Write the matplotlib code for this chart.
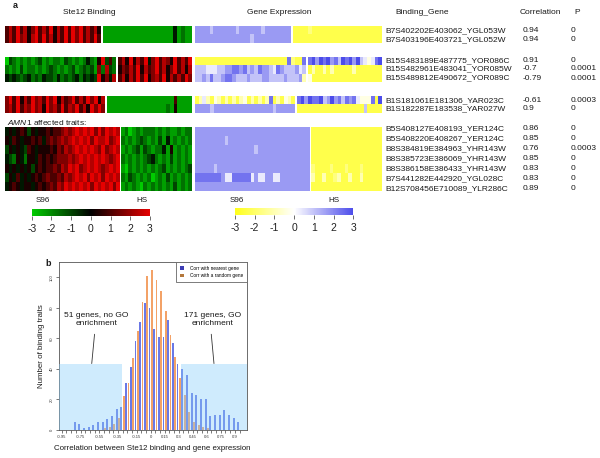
import numpy as np
import matplotlib
matplotlib.use("Agg")
import matplotlib.pyplot as plt
from matplotlib.colors import LinearSegmentedColormap, Normalize
from matplotlib.patches import Patch, Rectangle
from matplotlib.cm import ScalarMappable

plt.rcParams['font.family'] = ['Liberation Sans', 'DejaVu Sans']
plt.rcParams['axes.unicode_minus'] = False
plt.rcParams['mathtext.fontset'] = 'custom'
plt.rcParams['mathtext.it'] = 'Liberation Sans:italic'
plt.rcParams['mathtext.rm'] = 'Liberation Sans'

# ---------------- panel a data ----------------
# heatmap cells: digit d -> value (d - 4.5) / 1.5  (range -3 .. 3)
g1_labels = ["B7S402202E403062_YGL053W", "B7S403196E403721_YGL052W"]
g1_corr = ["0.94", "0.94"]
g1_p = ["0", "0"]
g1_split = 26
g1_binding = [
    "68696857968695869697968685" + "111111111111111111141211",
    "68697858969685869697968696" + "111111111111111111141211",
]
g1_expression = [
    "77776777777677777767777777" + "111121111111111111111111",
    "77777777777777767777777777" + "111111111111111111111111",
]

g2_labels = ["B15S483189E487775_YOR086C", "B15S482961E483041_YOR085W",
             "B15S489812E490672_YOR089C"]
g2_corr = ["0.91", "-0.7", "-0.79"]
g2_p = ["0", "0.0001", "0.0001"]
g2_split = 30
g2_binding = [
    "032121212312122132121242159362" + "68595869479687596869",
    "212131221212321212312323172832" + "57686958679685796858",
    "434323423243324232342434395748" + "68586969578695868697",
]
g2_expression = [
    "1111111111111111111111111" + "82118" + "89798978698979654589",
    "666555667788786768776587666756" + "13113131111131111111",
    "667686678876667666776666766673" + "41111111111111111111",
]

g3_labels = ["B1S181061E181306_YAR023C", "B1S182287E183538_YAR027W"]
g3_corr = ["-0.61", "0.9"]
g3_p = ["0.0003", "0"]
g3_split = 27
g3_binding = [
    "796958697869795867968697958" + "111111111111111111" + "61111",
    "786968797859786968796859797" + "1111111111111111" + "2151111",
]
g3_expression = [
    "135314313131341313138131431" + "89798896797868785444819",
    "777767777777777777777677777" + "111111111111111111" + "61111",
]

g4_labels = ["B5S408127E408193_YER124C", "B5S408220E408267_YER124C",
             "B8S384819E384963_YHR143W", "B8S385723E386069_YHR143W",
             "B8S386158E386433_YHR143W", "B7S441282E442920_YGL028C",
             "B12S708456E710089_YLR286C"]
g4_corr = ["0.86", "0.85", "0.76", "0.85", "0.83", "0.83", "0.89"]
g4_p = ["0", "0", "0.0003", "0", "0", "0", "0"]
g4_split = 31
g4_binding = [
    "4545653545565667878989897979898" + "1201212221212112122",
    "5465455656467678789898979889789" + "2121232121314121212",
    "3545436545556576878989898797898" + "1212313212241512121",
    "4325425546565677787898989898789" + "2121212342121312121",
    "5454545356566768798978989878989" + "1021212121231212123",
    "3546454565676676878989798979898" + "2132121201213121212",
    "4565455456567687989898979898979" + "1212102121212131212",
]
g4_expression = [
    "7777777777777777777777777777777" + "1111111111111111111",
    "7777777767777777777777777777777" + "1111111111111111111",
    "7777777777777777677777777777777" + "1111111111111111111",
    "7777777777777777777777777777777" + "1111111111111111111",
    "7777767777777777777777777777777" + "2111121112111211111",
    "8888888755888885755775577777777" + "3113112311311311111",
    "7777777777777777777777777777777" + "1111111111111111111",
]

cbar_ticks = [-3, -2, -1, 0, 1, 2, 3]

# ---------------- panel b data ----------------
hist_bins = [-0.95, -0.9, -0.85, -0.8, -0.75, -0.7, -0.65, -0.6, -0.55, -0.5,
             -0.45, -0.4, -0.35, -0.3, -0.25, -0.2, -0.15, -0.1, -0.05, 0.0,
             0.05, 0.1, 0.15, 0.2, 0.25, 0.3, 0.35, 0.4, 0.45, 0.5,
             0.55, 0.6, 0.65, 0.7, 0.75, 0.8, 0.85, 0.9, 0.95]
nearest_counts = [0, 0, 0, 5, 4, 1, 2, 3, 5, 5,
                  7, 9, 14, 15, 31, 41, 58, 71, 83, 80,
                  66, 61, 61, 72, 57, 43, 40, 36, 24, 23,
                  20, 20, 9, 10, 10, 13, 10, 8, 5]
random_counts = [0, 0, 0, 0, 0, 0, 0, 0, 0, 1,
                 2, 4, 8, 22, 31, 47, 65, 84, 101, 105,
                 98, 91, 78, 62, 48, 34, 23, 12, 5, 3,
                 2, 1, 0, 0, 0, 0, 0, 0, 0]
shown_xlabels = {-0.95: "-0.95", -0.75: "-0.75", -0.55: "-0.55", -0.35: "-0.35",
                 -0.15: "-0.15", 0.0: "0", 0.15: "0.15", 0.3: "0.3", 0.45: "0.45",
                 0.6: "0.6", 0.75: "0.75", 0.9: "0.9"}
hist_yticks = [0, 20, 40, 60, 80, 100]
shade_height = 43.5
left_shade_end = -0.31
right_shade_start = 0.327

# ---------------- figure ----------------
W, H = 600, 458
fig = plt.figure(figsize=(6, 4.58), dpi=100)
fig.patch.set_facecolor('white')

ov = fig.add_axes([0, 0, 1, 1])
ov.set_xlim(0, W)
ov.set_ylim(H, 0)
ov.axis('off')

cmap_b = LinearSegmentedColormap.from_list('bind', [(0, 0.8, 0), (0, 0, 0), (0.9, 0, 0)])
cmap_e = LinearSegmentedColormap.from_list('expr', [(1, 1, 0.1), (1, 1, 1), (0.3, 0.3, 0.92)])
norm = Normalize(-3, 3)

TXT = '#1a1a1a'
FS = 6.0


def decode(rows):
    lens = {len(r) for r in rows}
    assert len(lens) == 1, lens
    return (np.array([[int(c) for c in r] for r in rows], dtype=float) - 4.5) / 1.5


PX = 3.69
GAP = 2.4
BX0 = 4.5
EX0 = 194.5

groups = [
    (g1_binding, g1_expression, g1_split, (26.7, 43.3), g1_labels, g1_corr, g1_p, [31, 39.3]),
    (g2_binding, g2_expression, g2_split, (56.7, 81.7), g2_labels, g2_corr, g2_p, [60.3, 68.8, 78]),
    (g3_binding, g3_expression, g3_split, (96.7, 113.3), g3_labels, g3_corr, g3_p, [100.3, 108.6]),
    (g4_binding, g4_expression, g4_split, (127.7, 191), g4_labels, g4_corr, g4_p,
     [128.3, 138.3, 148.3, 158.3, 168.3, 178.3, 188.3]),
]

for bind, expr, split, (y0, y1), labels, corr, pv, ly in groups:
    B = decode(bind)
    E = decode(expr)
    n = B.shape[1]
    for X0, M, cmap in ((BX0, B, cmap_b), (EX0, E, cmap_e)):
        xa1 = X0 + split * PX
        xb0 = xa1 + GAP
        xb1 = X0 + n * PX + GAP
        ov.imshow(M[:, :split], cmap=cmap, norm=norm, aspect='auto',
                  interpolation='nearest', extent=(X0, xa1, y1, y0))
        ov.imshow(M[:, split:], cmap=cmap, norm=norm, aspect='auto',
                  interpolation='nearest', extent=(xb0, xb1, y1, y0))
    for lab, c, p, yy in zip(labels, corr, pv, ly):
        ov.text(385, yy, lab, fontsize=FS, color=TXT, ha='left', va='center')
        ov.text(523, yy, c, fontsize=FS, color=TXT, ha='left', va='center')
        ov.text(571, yy, p, fontsize=FS, color=TXT, ha='left', va='center')

ov.set_xlim(0, W)
ov.set_ylim(H, 0)

ov.text(15, 6, "a", fontsize=6.5, fontweight='bold', color=TXT, ha='center', va='center')
ov.text(89, 13, "Ste12 Binding", fontsize=FS, color=TXT, ha='center', va='center')
ov.text(279, 13, "Gene Expression", fontsize=FS, color=TXT, ha='center', va='center')
ov.text(422, 13, "Binding_Gene", fontsize=FS, color=TXT, ha='center', va='center')
ov.text(540, 13, "Correlation", fontsize=FS, color=TXT, ha='center', va='center')
ov.text(577, 13, "P", fontsize=FS, color=TXT, ha='center', va='center')
ov.text(7, 122.5, r"$\mathit{AMN1}$ affected traits:", fontsize=FS, color=TXT,
        ha='left', va='center')

ov.text(43.3, 201, "S96", fontsize=5.8, color=TXT, ha='center', va='center')
ov.text(141.7, 201, "HS", fontsize=5.8, color=TXT, ha='center', va='center')
ov.text(236.7, 200, "S96", fontsize=5.8, color=TXT, ha='center', va='center')
ov.text(334.3, 200, "HS", fontsize=5.8, color=TXT, ha='center', va='center')
ov.text(48, 263, "b", fontsize=6.5, fontweight='bold', color=TXT, ha='center', va='center')

# colorbars
for (x0, x1, yb, yt), cmap in (((31.7, 150, 216, 209.3), cmap_b), ((235, 353.3, 215, 208), cmap_e)):
    cax = fig.add_axes([x0 / W, 1 - yb / H, (x1 - x0) / W, (yb - yt) / H])
    cb = fig.colorbar(ScalarMappable(norm=norm, cmap=cmap), cax=cax,
                      orientation='horizontal', ticks=cbar_ticks)
    cb.outline.set_visible(False)
    cb.ax.set_xticklabels([str(t) for t in cbar_ticks])
    cb.ax.tick_params(labelsize=7.5, length=3, width=0.6, color='#555',
                      labelcolor='#222', pad=3)

# histogram
axh = fig.add_axes([59 / W, 1 - 430 / H, 188 / W, 168 / H])
c = np.array(hist_bins)
blue_col = '#6a78e6'
orange_col = '#f3a267'
axh.bar(c - 0.0125, nearest_counts, width=0.02, color=blue_col, linewidth=0, zorder=2)
axh.bar(c + 0.0125, random_counts, width=0.02, color=orange_col, linewidth=0, zorder=2)
xl = (-0.98, 1.03)
axh.set_xlim(*xl)
axh.set_ylim(0, 110)
axh.add_patch(Rectangle((xl[0], 0), left_shade_end - xl[0], shade_height,
                        facecolor='#87cefa', alpha=0.4, lw=0, zorder=3))
axh.add_patch(Rectangle((right_shade_start, 0), xl[1] - right_shade_start, shade_height,
                        facecolor='#87cefa', alpha=0.4, lw=0, zorder=3))

axh.set_xticks(hist_bins)
axh.set_xticklabels([shown_xlabels.get(round(b, 2), "") for b in hist_bins])
axh.set_yticks(hist_yticks)
axh.set_yticklabels([str(t) for t in hist_yticks], rotation=90, va='center')
axh.tick_params(axis='both', labelsize=3.0, length=2, width=0.5, color='#444',
                labelcolor='#333', pad=1.5)
for s in axh.spines.values():
    s.set_linewidth(0.6)
    s.set_color('#555')

axh.set_xlabel("Correlation between Ste12 binding and gene expression", fontsize=5.7, color=TXT)
axh.xaxis.set_label_coords(0.495, -0.113)
axh.xaxis.label.set_va('center')
axh.set_ylabel("Number of binding traits", fontsize=5.7, color=TXT)
axh.yaxis.set_label_coords(-0.092, 0.5)
axh.yaxis.label.set_va('center')

axh.text(-0.578, 72.3, "51 genes, no GO\nenrichment", fontsize=FS, color=TXT,
         ha='center', va='center', linespacing=1.3, zorder=5)
axh.text(0.664, 72.3, "171 genes, GO\nenrichment", fontsize=FS, color=TXT,
         ha='center', va='center', linespacing=1.3, zorder=5)
axh.annotate('', xy=(-0.63, shade_height), xytext=(-0.60, 62.7),
             arrowprops=dict(arrowstyle='-', lw=0.6, color='#333', shrinkA=0, shrinkB=0))
axh.annotate('', xy=(0.677, shade_height), xytext=(0.648, 62.7),
             arrowprops=dict(arrowstyle='-', lw=0.6, color='#333', shrinkA=0, shrinkB=0))

handles = [Patch(facecolor='#3c3cb4', edgecolor='none'),
           Patch(facecolor='#b4783c', edgecolor='none')]
leg = axh.legend(handles, ["Corr with nearest gene", "Corr with a random gene"],
                 loc='upper right', fontsize=3.4, frameon=True, fancybox=False,
                 borderaxespad=0, handlelength=0.9, handleheight=0.9,
                 handletextpad=1.2, borderpad=0.8, labelspacing=0.5)
leg.get_frame().set_edgecolor('#666')
leg.get_frame().set_linewidth(0.6)
leg.get_frame().set_alpha(1)
leg.set_zorder(6)

fig.savefig('out.png', dpi=100, facecolor='white')
